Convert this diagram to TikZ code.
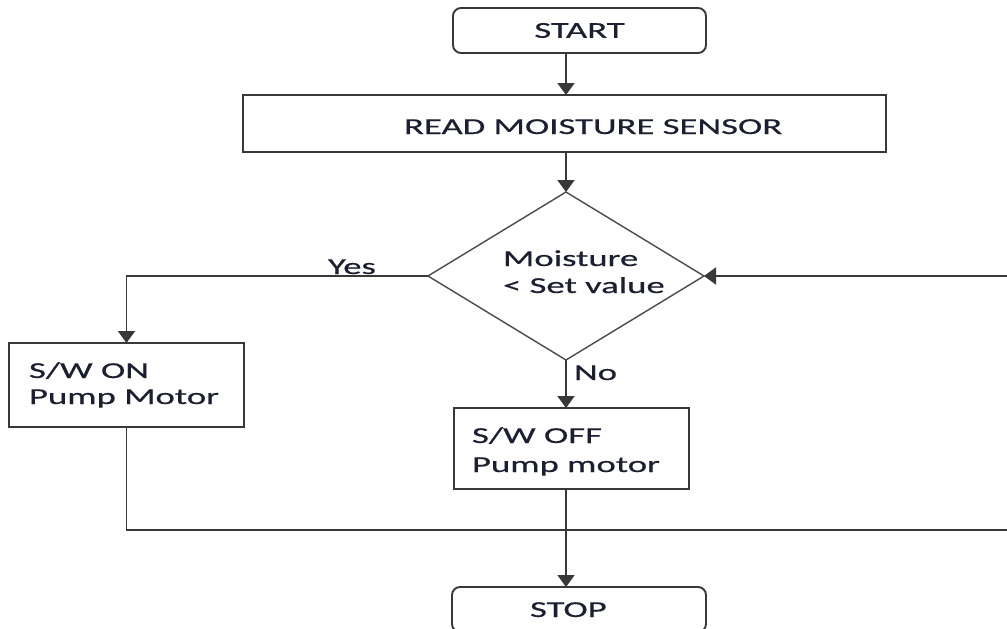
\documentclass[tikz,border=0pt]{standalone}
\usepackage{fontspec}
\setmainfont{Carlito}[FakeStretch=1.61,UprightFeatures={FakeBold=0.6}]
\usetikzlibrary{arrows.meta,shapes.geometric}
\definecolor{ln}{HTML}{383838}
\definecolor{dl}{HTML}{4A4A4A}
\definecolor{tx}{HTML}{1B1F30}
\begin{document}
\begin{tikzpicture}[x=1pt,y=-1pt,
  box/.style={draw=ln, line width=1.9pt, rectangle, inner sep=0pt, outer sep=0pt},
  rbox/.style={box, rounded corners=8pt},
  dbox/.style={draw=dl, line width=1.4pt, diamond, inner sep=0pt, outer sep=0pt},
  txt/.style={text=tx, inner sep=0pt, outer sep=0pt, font=\fontsize{22.8}{27}\selectfont},
  conn/.style={draw=ln, line width=1.9pt},
  arr/.style={conn, -{Triangle[width=17pt,length=12pt]}}]
\useasboundingbox (0,0) rectangle (1007,629);
\clip (0,0) rectangle (1007,629);
% shapes
\node[rbox, txt, minimum width=253pt, minimum height=45pt] (start) at (579.5,30.5) {START};
\node[box, minimum width=643pt, minimum height=57pt] (read) at (564.5,123.5) {};
\node[dbox, minimum width=276pt, minimum height=168pt] (dec) at (566,276) {};
\node[box, minimum width=235pt, minimum height=84pt] (swon) at (126.5,385) {};
\node[box, minimum width=235pt, minimum height=81pt] (swoff) at (571.5,448.5) {};
\node[rbox, minimum width=254pt, minimum height=45pt] (stop) at (579,609.5) {};
% texts
\node[txt, anchor=base west] (readt) at (404,134) {READ MOISTURE SENSOR};
\node[txt, anchor=base west] (dect1) at (503,266) {Moisture};
\node[txt, anchor=base west] (dect2) at (503,293) {< Set value};
\node[txt, anchor=base west] (ont1) at (29,378) {S/W ON};
\node[txt, anchor=base west] (ont2) at (29,404) {Pump Motor};
\node[txt, anchor=base west] (offt1) at (472,443) {S/W OFF};
\node[txt, anchor=base west] (offt2) at (472,472) {Pump motor};
\node[txt, anchor=base west] (stopt) at (530,617) {STOP};
\node[txt, anchor=base west] (yes) at (328,274) {Yes};
\node[txt, anchor=base west] (no) at (574,380) {No};
% free ends at the right border
\coordinate (rt) at (1007,276);
\coordinate (rb) at (1007,530);
% connectors
\draw[arr] (dec.north |- start.south) -- (dec.north |- read.north);
\draw[arr] (dec.north |- read.south) -- (dec.north);
\draw[arr] (dec.west) -| (swon.north);
\draw[arr] (dec.south) -- (dec.south |- swoff.north);
\draw[conn] (swon.south) |- (rb);
\draw[arr] (dec.south |- swoff.south) -- (dec.south |- stop.north);
\draw[arr] (rt) -- (dec.east);
\end{tikzpicture}
\end{document}
